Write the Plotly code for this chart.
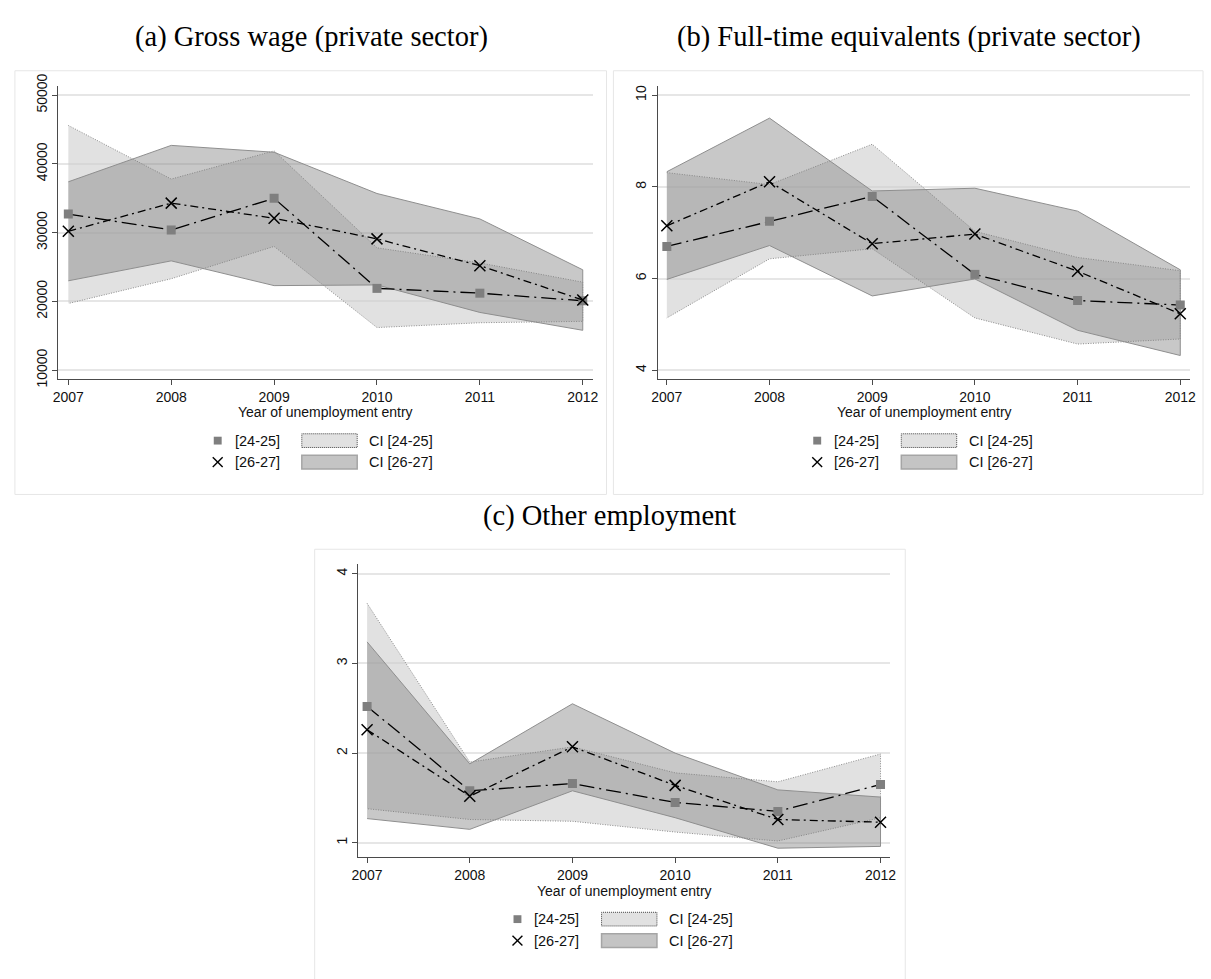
import plotly.graph_objects as go

W, H = 1211, 979

years = [2007, 2008, 2009, 2010, 2011, 2012]

# (a) Gross wage (private sector)
wage_24_25 = [32700, 30400, 35000, 21900, 21200, 20100]
wage_26_27 = [30200, 34300, 32100, 29100, 25200, 20200]
wage_ci_24_25_hi = [45600, 37800, 41900, 27800, 25600, 22800]
wage_ci_24_25_lo = [19700, 23300, 28000, 16200, 16900, 17100]
wage_ci_26_27_hi = [37400, 42700, 41700, 35700, 32000, 24600]
wage_ci_26_27_lo = [23000, 25900, 22300, 22400, 18400, 15800]
wage_ticks = [10000, 20000, 30000, 40000, 50000]

# (b) Full-time equivalents (private sector)
fte_24_25 = [6.70, 7.25, 7.79, 6.09, 5.52, 5.42]
fte_26_27 = [7.15, 8.11, 6.76, 6.97, 6.16, 5.23]
fte_ci_24_25_hi = [8.31, 8.05, 8.93, 7.03, 6.46, 6.17]
fte_ci_24_25_lo = [5.14, 6.43, 6.65, 5.14, 4.57, 4.68]
fte_ci_26_27_hi = [8.33, 9.50, 7.91, 7.97, 7.47, 6.19]
fte_ci_26_27_lo = [5.98, 6.72, 5.62, 5.99, 4.87, 4.32]
fte_ticks = [4, 6, 8, 10]

# (c) Other employment
oe_24_25 = [2.52, 1.58, 1.66, 1.45, 1.35, 1.65]
oe_26_27 = [2.26, 1.52, 2.07, 1.64, 1.26, 1.23]
oe_ci_24_25_hi = [3.67, 1.90, 2.07, 1.78, 1.68, 1.99]
oe_ci_24_25_lo = [1.38, 1.26, 1.24, 1.12, 1.02, 1.28]
oe_ci_26_27_hi = [3.24, 1.88, 2.55, 2.00, 1.59, 1.51]
oe_ci_26_27_lo = [1.27, 1.15, 1.58, 1.28, 0.94, 0.96]
oe_ticks = [1, 2, 3, 4]

series_labels = ["[24-25]", "[26-27]"]
ci_labels = ["CI [24-25]", "CI [26-27]"]
x_title = "Year of unemployment entry"

SANS = "Liberation Sans, Arial, sans-serif"
SERIF = "Liberation Serif, Times New Roman, serif"
AXIS_COL = "#4a4a4a"
GRID_COL = "#e6e6e6"
LIGHT_FILL = "rgba(205,205,205,0.6)"
DARK_FILL = "rgba(128,128,128,0.43)"
LIGHT_EDGE = "#8c8c8c"
DARK_EDGE = "#8e8e8e"
SQ_COL = "#7f7f7f"


# pixel -> paper-coordinate helpers
def fx(p):
    return p / W


def fy(p):
    return 1 - p / H


panels = [
    dict(key="", title="(a) Gross wage (private sector)",
         left=52, right=592, top=75, bottom=374,
         x0px=62, x1px=582, y_ref=(10000, 365, 50000, 84),
         s1=wage_24_25, s2=wage_26_27,
         c1=(wage_ci_24_25_hi, wage_ci_24_25_lo),
         c2=(wage_ci_26_27_hi, wage_ci_26_27_lo),
         ticks=wage_ticks, title_xy=(308, 25),
         frame=(8, 59, 606, 492)),
    dict(key="2", title="(b) Full-time equivalents (private sector)",
         left=658, right=1196, top=75, bottom=374,
         x0px=667, x1px=1186, y_ref=(4, 365, 10, 84),
         s1=fte_24_25, s2=fte_26_27,
         c1=(fte_ci_24_25_hi, fte_ci_24_25_lo),
         c2=(fte_ci_26_27_hi, fte_ci_26_27_lo),
         ticks=fte_ticks, title_xy=(912, 25),
         frame=(613, 59, 1209, 492)),
    dict(key="3", title="(c) Other employment",
         left=355, right=893, top=563, bottom=863,
         x0px=364, x1px=883, y_ref=(1, 848, 4, 573),
         s1=oe_24_25, s2=oe_26_27,
         c1=(oe_ci_24_25_hi, oe_ci_24_25_lo),
         c2=(oe_ci_26_27_hi, oe_ci_26_27_lo),
         ticks=oe_ticks, title_xy=(609, 514),
         frame=(311, 548, 908, 990)),
]

fig = go.Figure()
shapes = []
annotations = []

for p in panels:
    xa = "x" + p["key"]
    ya = "y" + p["key"]

    # data ranges derived from the pixel extent of each plot region
    span_x = (p["x1px"] - p["x0px"]) / (years[-1] - years[0])
    xr = [years[0] - (p["x0px"] - p["left"]) / span_x,
          years[-1] + (p["right"] - p["x1px"]) / span_x]
    v0, py0, v1, py1 = p["y_ref"]
    span_y = (py0 - py1) / (v1 - v0)
    yr = [v0 - (p["bottom"] - py0) / span_y, v1 + (py1 - p["top"]) / span_y]

    band_x = years + years[::-1]
    hi1, lo1 = p["c1"]
    hi2, lo2 = p["c2"]
    fig.add_trace(go.Scatter(
        x=band_x, y=hi1 + lo1[::-1], fill="toself", fillcolor=LIGHT_FILL,
        mode="lines", line=dict(color=LIGHT_EDGE, width=1, dash="1px,1.5px"),
        xaxis=xa, yaxis=ya, showlegend=False, hoverinfo="skip", name=ci_labels[0]))
    fig.add_trace(go.Scatter(
        x=band_x, y=hi2 + lo2[::-1], fill="toself", fillcolor=DARK_FILL,
        mode="lines", line=dict(color=DARK_EDGE, width=1),
        xaxis=xa, yaxis=ya, showlegend=False, hoverinfo="skip", name=ci_labels[1]))
    fig.add_trace(go.Scatter(
        x=years, y=p["s1"], mode="lines+markers",
        line=dict(color="black", width=1.3, dash="15px,5px,2px,5px"),
        marker=dict(symbol="square", size=9, color=SQ_COL),
        xaxis=xa, yaxis=ya, showlegend=False, name=series_labels[0]))
    fig.add_trace(go.Scatter(
        x=years, y=p["s2"], mode="lines+markers",
        line=dict(color="black", width=1.3, dash="8px,4px,2px,4px"),
        marker=dict(symbol="x-thin", size=11, color="black",
                    line=dict(color="black", width=1.5)),
        xaxis=xa, yaxis=ya, showlegend=False, name=series_labels[1]))

    xaxis = dict(
        domain=[fx(p["left"]), fx(p["right"])], range=xr, anchor=ya,
        tickmode="array", tickvals=years, ticktext=[str(y) for y in years],
        ticks="outside", ticklen=5, tickcolor=AXIS_COL, tickwidth=1,
        showline=True, linecolor=AXIS_COL, linewidth=1,
        showgrid=False, zeroline=False,
        tickfont=dict(family=SANS, size=14, color="#111"), fixedrange=True)
    yaxis = dict(
        domain=[fy(p["bottom"]), fy(p["top"])], range=yr, anchor=xa,
        tickmode="array", tickvals=p["ticks"], ticktext=[str(t) for t in p["ticks"]],
        tickangle=-90, ticks="outside", ticklen=5, tickcolor=AXIS_COL, tickwidth=1,
        showline=True, linecolor=AXIS_COL, linewidth=1,
        showgrid=True, gridcolor=GRID_COL, gridwidth=1.5, zeroline=False,
        tickfont=dict(family=SANS, size=14, color="#111"), fixedrange=True)
    fig.update_layout({"xaxis" + p["key"]: xaxis, "yaxis" + p["key"]: yaxis})

    # outer frame of the panel
    fl, ft, fr, fb = p["frame"]
    shapes.append(dict(type="rect", xref="paper", yref="paper",
                       x0=fx(fl), x1=fx(fr), y0=fy(fb), y1=fy(ft),
                       line=dict(color="#e6e6e6", width=1), layer="below"))

    # panel title
    tx, ty = p["title_xy"]
    annotations.append(dict(text=p["title"], x=fx(tx), y=fy(ty), xref="paper", yref="paper",
                            showarrow=False, xanchor="center", yanchor="middle",
                            font=dict(family=SERIF, size=28.5, color="black")))

    # x axis title
    annotations.append(dict(text=x_title, x=fx((p["left"] + p["right"]) / 2),
                            y=fy(p["bottom"] + 34), xref="paper", yref="paper",
                            showarrow=False, xanchor="center", yanchor="middle",
                            font=dict(family=SANS, size=14, color="#111")))

    # legend block
    lx = p["left"]
    ly = p["bottom"]
    r1 = ly + 63
    r2 = ly + 85
    shapes.append(dict(type="rect", xref="paper", yref="paper",
                       x0=fx(lx + 157), x1=fx(lx + 165), y0=fy(r1 + 4), y1=fy(r1 - 4),
                       fillcolor=SQ_COL, line=dict(width=0)))
    for a, b in ((-5, 5), (5, -5)):
        shapes.append(dict(type="line", xref="paper", yref="paper",
                           x0=fx(lx + 161 - 5), x1=fx(lx + 161 + 5),
                           y0=fy(r2 + a), y1=fy(r2 + b),
                           line=dict(color="black", width=1.4)))
    shapes.append(dict(type="rect", xref="paper", yref="paper",
                       x0=fx(lx + 246), x1=fx(lx + 302), y0=fy(r1 + 7), y1=fy(r1 - 7),
                       fillcolor="#e1e1e1", line=dict(color="#444444", width=1, dash="1px,1px")))
    shapes.append(dict(type="rect", xref="paper", yref="paper",
                       x0=fx(lx + 246), x1=fx(lx + 302), y0=fy(r2 + 7), y1=fy(r2 - 7),
                       fillcolor="#c4c4c4", line=dict(color="#a5a5a5", width=1.5)))
    for txt, xo, yo in ((series_labels[0], 176, r1), (series_labels[1], 176, r2),
                        (ci_labels[0], 312, r1), (ci_labels[1], 312, r2)):
        annotations.append(dict(text=txt, x=fx(lx + xo), y=fy(yo), xref="paper", yref="paper",
                                showarrow=False, xanchor="left", yanchor="middle",
                                font=dict(family=SANS, size=14.5, color="#111")))

fig.update_layout(
    width=W, height=H,
    margin=dict(l=0, r=0, t=0, b=0),
    paper_bgcolor="white", plot_bgcolor="white",
    showlegend=False,
    shapes=shapes, annotations=annotations,
)

fig.write_html("out.html", config={"displayModeBar": False})
